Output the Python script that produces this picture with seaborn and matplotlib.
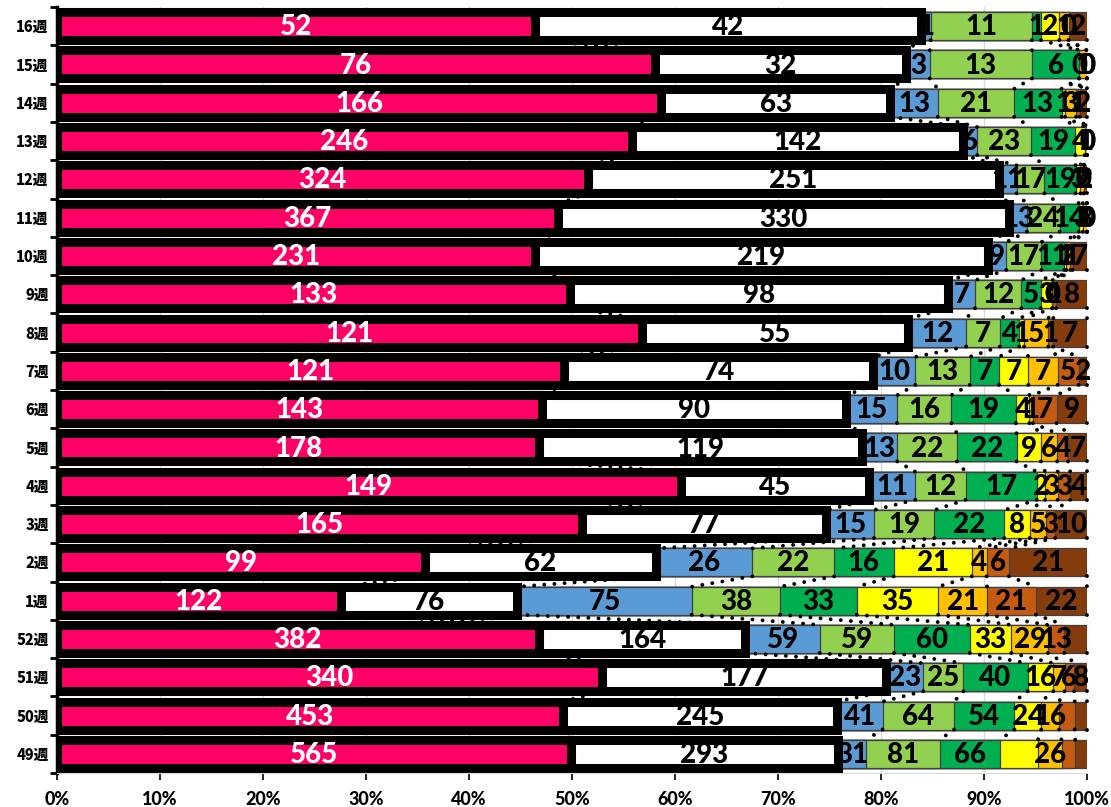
import numpy as np
import pandas as pd
import matplotlib
matplotlib.use('Agg')
import matplotlib.pyplot as plt
import seaborn as sns

plt.rcParams['font.family'] = ['Lato', 'Noto Sans CJK JP', 'DejaVu Sans']

# weeks, top row first
weeks = ['16週', '15週', '14週', '13週', '12週', '11週', '10週', '9週', '8週', '7週',
         '6週', '5週', '4週', '3週', '2週', '1週', '52週', '51週', '50週', '49週']

pink = [52, 76, 166, 246, 324, 367, 231, 133, 121, 121, 143, 178, 149, 165, 99, 122, 382, 340, 453, 565]
white = [42, 32, 63, 142, 251, 330, 219, 98, 55, 74, 90, 119, 45, 77, 62, 76, 164, 177, 245, 293]
blue = [1, 3, 13, 6, 11, 13, 9, 7, 12, 10, 15, 13, 11, 15, 26, 75, 59, 23, 41, 31]
lgreen = [11, 13, 21, 23, 17, 24, 17, 12, 7, 13, 16, 22, 12, 19, 22, 38, 59, 25, 64, 81]
green = [1, 6, 13, 19, 19, 14, 11, 5, 4, 7, 19, 22, 17, 22, 16, 33, 60, 40, 54, 66]
yellow = [2, 0, 1, 4, 3, 3, 1, 3, 1, 7, 4, 9, 2, 8, 21, 35, 33, 16, 24, 42]
orange = [1, 1, 3, 1, 2, 3, 2, 0, 5, 7, 1, 6, 3, 5, 4, 21, 29, 7, 16, 26]
dorange = [0, 0, 1, 0, 0, 0, 1, 1, 1, 5, 7, 4, 3, 3, 6, 21, 13, 6, 14, 15]
brown = [2, 0, 2, 0, 2, 0, 7, 8, 7, 2, 9, 7, 4, 10, 21, 22, 18, 8, 11, 13]

series = [pink, white, blue, lgreen, green, yellow, orange, dorange, brown]
colors = ['#FF0066', '#FFFFFF', '#5B9BD5', '#92D050', '#00B050',
          '#FFFF00', '#FFC000', '#C55A11', '#843C0C']

# labels that are not shown in the original (week, series index)
hidden = {('52週', 8), ('50週', 7), ('50週', 8), ('49週', 5), ('49週', 7), ('49週', 8)}

vals = np.array(series, dtype=float)           # (9, 20)
pct = vals / vals.sum(axis=0) * 100
cum = np.cumsum(pct, axis=0)

df = pd.DataFrame({'week': weeks})
for k in range(len(series)):
    df[f'cum{k}'] = cum[k]

fig = plt.figure(figsize=(11.11, 8.07), dpi=100)
ax = fig.add_axes([57 / 1111, 1 - 773 / 807, 1030 / 1111, 766 / 807])

bar_h = 0.73
# draw cumulative bars back to front so they stack
for k in range(len(series) - 1, -1, -1):
    thick = k < 2
    sns.barplot(data=df, x=f'cum{k}', y='week', order=weeks, orient='h',
                color=colors[k], saturation=1, width=bar_h, errorbar=None,
                edgecolor='black' if thick else '#404040',
                linewidth=6.5 if thick else 0.9, ax=ax, zorder=2)

# series lines (dotted connectors between rows)
for k in range(len(series)):
    for i in range(len(weeks) - 1):
        ax.plot([cum[k][i], cum[k][i + 1]], [i + bar_h / 2, i + 1 - bar_h / 2],
                color='black', lw=2.8, linestyle=(0, (0.01, 2.6)),
                dash_capstyle='round', zorder=3, clip_on=False)

# data labels
for k in range(len(series)):
    for i, w in enumerate(weeks):
        if (w, k) in hidden:
            continue
        left = cum[k - 1][i] if k > 0 else 0
        ax.text((left + cum[k][i]) / 2, i + 0.03, str(series[k][i]),
                ha='center', va='center', fontsize=20, fontweight='black',
                color='white' if k == 0 else 'black', zorder=4)

ax.set_xlim(0, 100)
ax.set_ylim(len(weeks) - 0.5, -0.5)
ax.set_xlabel('')
ax.set_ylabel('')
ax.set_xticks(np.arange(0, 101, 10))
ax.set_xticklabels([f'{v}%' for v in range(0, 101, 10)], fontsize=13, fontweight='black')
ax.set_yticks(range(len(weeks)))
ax.set_yticklabels(weeks, fontsize=10.5, fontweight='black', family=['Noto Sans CJK JP'])
ax.set_yticks(np.arange(-0.5, len(weeks), 1), minor=True)
ax.tick_params(axis='y', which='major', length=0, pad=6)
ax.tick_params(axis='y', which='minor', length=5, width=2, color='black', direction='out')
ax.tick_params(axis='x', length=5, width=1.2, color='black', pad=8)

ax.grid(axis='x', color='#D9D9D9', lw=1)
ax.set_axisbelow(True)
for s in ['top', 'right']:
    ax.spines[s].set_visible(False)
ax.spines['left'].set_color('black')
ax.spines['left'].set_linewidth(2.5)
ax.spines['bottom'].set_color('#D9D9D9')

fig.savefig('out.png', dpi=100, facecolor='white')
